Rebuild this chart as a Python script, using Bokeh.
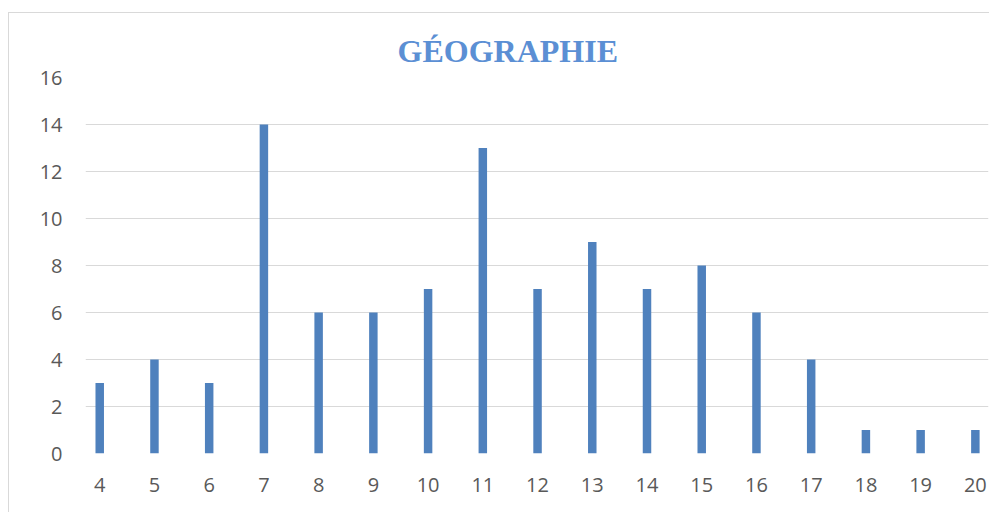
from bokeh.plotting import figure
from bokeh.models import Range1d, FixedTicker, ColumnDataSource
from bokeh.embed import file_html
from bokeh.resources import INLINE

grades = [4, 5, 6, 7, 8, 9, 10, 11, 12, 13, 14, 15, 16, 17, 18, 19, 20]
counts = [3, 4, 3, 14, 6, 6, 7, 13, 7, 9, 7, 8, 6, 4, 1, 1, 1]
y_ticks = [0, 2, 4, 6, 8, 10, 12, 14, 16]
title_text = "GÉOGRAPHIE"

source = ColumnDataSource(data=dict(grade=grades, count=counts))

p = figure(width=981, height=500,
           x_range=Range1d(3.74, 20.24), y_range=Range1d(0, 16),
           output_backend="svg", toolbar_location=None,
           min_border_left=76, min_border_right=2,
           min_border_top=64, min_border_bottom=60,
           title=title_text)

p.styles = {"border-top": "1px solid #d9d9d9", "border-left": "1px solid #d9d9d9",
            "margin-top": "12px", "margin-left": "8px"}

p.title.align = "left"
p.title.offset = 312
p.title.standoff = 17
p.title.text_font = "Liberation Serif"
p.title.text_font_style = "bold"
p.title.text_font_size = "32px"
p.title.text_color = "#5B8FD4"

p.vbar(x="grade", top="count", width=0.155, bottom=0, source=source,
       fill_color="#4F81BD", line_color=None)

for ax in (p.xaxis, p.yaxis):
    ax.axis_line_color = None
    ax.major_tick_line_color = None
    ax.minor_tick_line_color = None
    ax.major_tick_out = 0
    ax.major_tick_in = 0
    ax.major_label_text_font = "Open Sans"
    ax.major_label_text_font_size = "20px"
    ax.major_label_text_color = "#595959"

p.xaxis.ticker = FixedTicker(ticks=grades)
p.yaxis.ticker = FixedTicker(ticks=y_ticks)
p.yaxis.major_label_standoff = 23
p.xaxis.major_label_standoff = 24

p.xgrid.grid_line_color = None
p.ygrid.grid_line_color = "#d9d9d9"
p.ygrid.grid_line_width = 1
p.outline_line_color = None

open("out.html", "w").write(file_html(p, INLINE))
